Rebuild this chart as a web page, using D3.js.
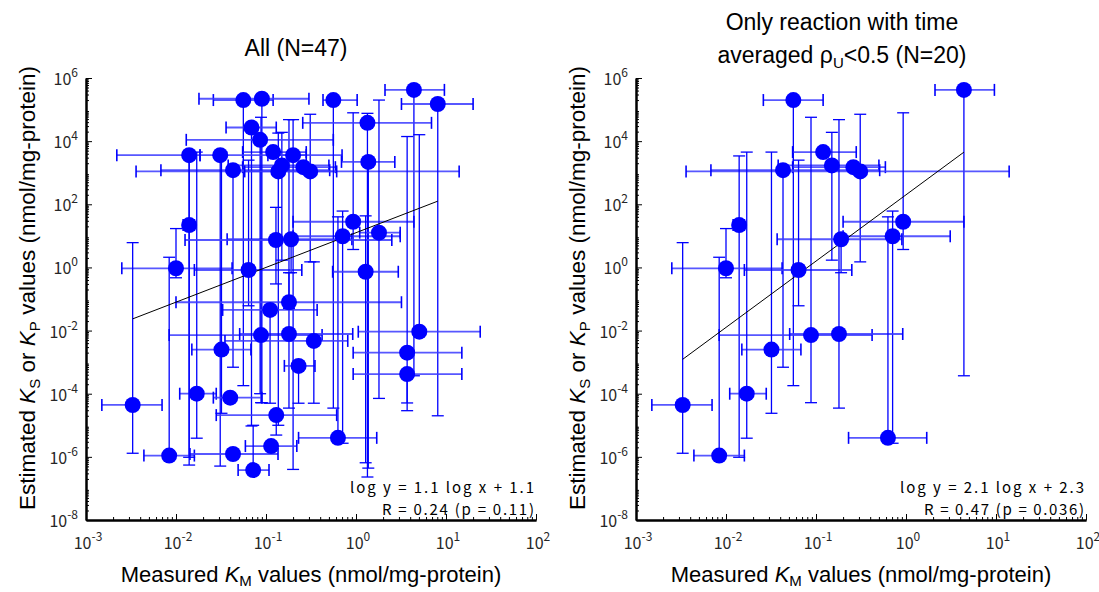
<!DOCTYPE html>
<html>
<head>
<meta charset="utf-8">
<script src="https://cdn.jsdelivr.net/npm/d3@7"></script>
<style>
  body { margin: 0; background: #fff; }
  text { font-family: "Liberation Sans", Arial, sans-serif; }
  .tick-label, .stats { font-family: "Noto Sans CJK JP", "DejaVu Sans", sans-serif; }
</style>
</head>
<body>
<svg id="chart" width="1099" height="592"></svg>
<script>
// Measured KM (x) with lower / upper error bounds, nmol/mg-protein
// first 20 entries are the reactions with time averaged rhoU < 0.5
const km   = [4.4, 0.056, 0.12, 0.15, 0.26, 0.31, 0.043, 0.014, 0.93, 0.71,
              0.19, 0.010, 0.064, 0.088, 0.18, 0.032, 0.017, 0.0033, 0.0084, 0.63,
              0.090, 0.069, 0.086, 0.014, 0.031, 0.20, 0.137, 0.56, 8.1, 1.34,
              1.37, 0.129, 0.111, 0.18, 0.23, 1.8, 1.28, 0.34, 5.05, 3.7,
              0.040, 0.13, 0.043, 0.114, 0.072, 3.7];
const kmLo = [2.1, 0.026, 0.055, 0.038, 0.055, 0.0036, 0.0068, 0.012, 0.20, 0.20,
              0.037, 0.0025, 0.016, 0.0084, 0.051, 0.015, 0.011, 0.0015, 0.0044, 0.23,
              0.018, 0.036, 0.013, 0.0022, 0.0185, 0.105, 0.058, 0.43, 3.2, 0.256,
              0.69, 0.0126, 0.033, 0.010, 0.16, 1.1, 0.55, 0.035, 1.06, 0.93,
              0.026, 0.028, 0.0143, 0.059, 0.049, 0.93];
const kmHi = [9.6, 0.12, 0.28, 0.50, 0.59, 14, 0.51, 0.016, 4.4, 3.1,
              0.90, 0.042, 0.25, 0.42, 0.92, 0.068, 0.028, 0.0070, 0.016, 1.7,
              0.30, 0.13, 0.56, 0.0185, 0.70, 0.28, 0.61, 1.03, 20, 6.9,
              2.7, 2.5, 0.37, 3.2, 0.35, 3.1, 2.95, 0.81, 24, 15,
              0.090, 0.61, 0.136, 0.22, 0.108, 15];

// Estimated KS or KP (y) with lower / upper error bounds
const ks   = [4.2e5, 2.0e5, 4.5e3, 1.7e3, 1.5e3, 1.1e3, 1.2e3, 22, 28, 9.7,
              7.8, 0.94, 0.83, 7.2e-3, 7.8e-3, 2.5e-3, 1.0e-4, 4.4e-5, 1.1e-6, 4.0e-6,
              2.2e5, 2.7e4, 1.1e4, 3.6e3, 3.6e3, 3.6e3, 1.1e3, 2.0e5, 1.5e5, 3.8e4,
              2.2e3, 7.4, 0.045, 0.079, 7.6e-4, 12.6, 0.73, 4.7e-3, 9.2e-3, 2.0e-3,
              7.5e-5, 2.1e-5, 1.23e-6, 2.2e-6, 3.8e-7, 4.2e-4];
const ksLo = [3.7e-4, 1.8e-4, 3.9e3, 1.7, 1.3e3, 1.5, 6.9e-4, 9.7e-7, 3.7, 2.7e-6,
              0.68, 0.47, 0.061, 5.2e-5, 3.5e-5, 2.4e-5, 3.9e-6, 1.3e-6, 0.9e-6, 3.2e-6,
              5.2e-5, 9.5e-6, 1.0e-4, 5.5e-7, 5.1e-7, 4.0e-7, 1.0e-5, 3.5e-5, 2.0e-5, 2.3e-7,
              4.4e-7, 0.3, 5.0e-5, 0.05, 5.0e-5, 7.1e-5, 6.5e-7, 5.0e-5, 7.8e-3, 5.1e-5,
              6.0e-5, 4.9e-6, 1.0e-6, 1.8e-6, 3.2e-7, 2.9e-5];
const ksHi = [4.6e5, 2.2e5, 5.2e3, 1.9e4, 1.7e3, 7.1e4, 1.4e3, 3.4e3, 7.9e4, 61,
              9.5, 17, 2.5e3, 5.7e4, 4.8e4, 4.5e3, 4.5e3, 6.1, 2.1, 40,
              2.4e5, 3.2e4, 1.3e4, 4.2e3, 4.2e3, 4.8e4, 1.8e4, 2.2e5, 1.7e5, 7.6e4,
              2.6e3, 80, 0.06, 0.68, 9.0e-4, 2.0e5, 43, 1.5, 1.6e4, 1.4e4,
              9.0e-5, 2.5e-5, 1.5e-6, 2.7e-6, 1.0e-5, 5.0e-4];

const lowRho = km.map((d, i) => i < 20);

const xMajor = [1e-3, 1e-2, 1e-1, 1e0, 1e1, 1e2];
const yMajor = [1e-8, 1e-6, 1e-4, 1e-2, 1e0, 1e2, 1e4, 1e6];

const fitSlope = [1.1, 2.1];
const fitIntercept = [1.1, 2.3];
const statLines = [
  ['log y = 1.1 log x + 1.1', 'R = 0.24 (p = 0.11)'],
  ['log y = 2.1 log x + 2.3', 'R = 0.47 (p = 0.036)']
];

const svg = d3.select('#chart');
const blue = '#0000ff';

function minorTicks(lo, hi) {
  const out = [];
  for (let e = lo; e < hi; e++) {
    for (let m = 2; m <= 9; m++) out.push(m * Math.pow(10, e));
  }
  return out;
}

function drawPanel(left, idx, p) {
  const x = d3.scaleLog().domain([1e-3, 1e2]).range([left, left + 450]);
  const y = d3.scaleLog().domain([1e-8, 1e6]).range([520, 78]);
  const g = svg.append('g');

  // error bars
  const bars = g.append('g');
  idx.forEach(i => {
    const cx = x(km[i]), cy = y(ks[i]);
    const y1 = y(ksLo[i]), y2 = y(ksHi[i]);
    bars.append('line').attr('x1', cx).attr('x2', cx).attr('y1', y1).attr('y2', y2)
      .attr('stroke', blue).attr('stroke-width', 1.3);
    [y1, y2].forEach(yy => bars.append('line')
      .attr('x1', cx - 6).attr('x2', cx + 6).attr('y1', yy).attr('y2', yy)
      .attr('stroke', blue).attr('stroke-width', 1.3));
    const x1 = x(kmLo[i]), x2 = x(kmHi[i]);
    bars.append('line').attr('x1', x1).attr('x2', x2).attr('y1', cy).attr('y2', cy)
      .attr('stroke', '#3a3aff').attr('stroke-width', 1.8).attr('opacity', 0.85);
    [x1, x2].forEach(xx => bars.append('line')
      .attr('x1', xx).attr('x2', xx).attr('y1', cy - 6).attr('y2', cy + 6)
      .attr('stroke', blue).attr('stroke-width', 1.6));
  });

  // fit line over the data range
  const xs = idx.map(i => km[i]);
  const xmin = d3.min(xs), xmax = d3.max(xs);
  const fy = v => Math.pow(10, fitSlope[p] * Math.log10(v) + fitIntercept[p]);
  g.append('line')
    .attr('x1', x(xmin)).attr('y1', y(fy(xmin)))
    .attr('x2', x(xmax)).attr('y2', y(fy(xmax)))
    .attr('stroke', '#000').attr('stroke-width', 1);

  // points
  g.append('g').selectAll('circle').data(idx).enter().append('circle')
    .attr('cx', i => x(km[i])).attr('cy', i => y(ks[i])).attr('r', 8)
    .attr('fill', blue);

  // axes (ticks pointing inward)
  const ax = g.append('g');
  ax.append('g').attr('transform', 'translate(0,520)')
    .call(d3.axisBottom(x).tickValues(minorTicks(-3, 2)).tickSize(-3).tickSizeOuter(0).tickFormat(''));
  ax.append('g').attr('transform', 'translate(0,520)')
    .call(d3.axisBottom(x).tickValues(xMajor).tickSize(-6).tickSizeOuter(0).tickFormat(''));
  ax.append('g').attr('transform', `translate(${left},0)`)
    .call(d3.axisLeft(y).tickValues(minorTicks(-8, 6)).tickSize(-3).tickSizeOuter(0).tickFormat(''));
  ax.append('g').attr('transform', `translate(${left},0)`)
    .call(d3.axisLeft(y).tickValues(yMajor).tickSize(-6).tickSizeOuter(0).tickFormat(''));
  ax.selectAll('.domain').attr('stroke', '#000').attr('stroke-width', 2);
  ax.selectAll('.tick line').attr('stroke', '#000');

  // tick labels 10^n
  xMajor.forEach(t => {
    const txt = g.append('text').attr('class', 'tick-label')
      .attr('x', x(t) + 2).attr('y', 549).attr('text-anchor', 'middle')
      .attr('font-size', 16).attr('fill', '#262626');
    txt.append('tspan').text('10');
    txt.append('tspan').attr('dy', -8).attr('font-size', 12).text(Math.round(Math.log10(t)));
  });
  yMajor.forEach(t => {
    const txt = g.append('text').attr('class', 'tick-label')
      .attr('x', left - 8).attr('y', y(t) + 7).attr('text-anchor', 'end')
      .attr('font-size', 16).attr('fill', '#262626');
    txt.append('tspan').text('10');
    txt.append('tspan').attr('dy', -8).attr('font-size', 12).text(Math.round(Math.log10(t)));
  });

  // fit statistics
  statLines[p].forEach((s, k) => {
    g.append('text').attr('class', 'stats')
      .attr('x', left + 448).attr('y', 493 + k * 22).attr('text-anchor', 'end')
      .attr('font-size', 15).attr('fill', '#000')
      .attr('textLength', s.length * 8).attr('lengthAdjust', 'spacing')
      .text(s);
  });

  // axis titles
  const xl = g.append('text').attr('x', left + 225).attr('y', 582)
    .attr('text-anchor', 'middle').attr('font-size', 22).attr('fill', '#000');
  xl.append('tspan').text('Measured ');
  xl.append('tspan').attr('font-style', 'italic').text('K');
  xl.append('tspan').attr('dy', 4).attr('font-size', 15).text('M');
  xl.append('tspan').attr('dy', -4).text(' values (nmol/mg-protein)');

  const yl = g.append('text')
    .attr('transform', `translate(${left - 51},288) rotate(-90)`)
    .attr('text-anchor', 'middle').attr('font-size', 22.5).attr('fill', '#000');
  yl.append('tspan').text('Estimated ');
  yl.append('tspan').attr('font-style', 'italic').text('K');
  yl.append('tspan').attr('dy', 5).attr('font-size', 15).text('S');
  yl.append('tspan').attr('dy', -5).text(' or ');
  yl.append('tspan').attr('font-style', 'italic').text('K');
  yl.append('tspan').attr('dy', 5).attr('font-size', 15).text('P');
  yl.append('tspan').attr('dy', -5).text(' values (nmol/mg-protein)');

  return g;
}

const allIdx = km.map((d, i) => i);
const subIdx = allIdx.filter(i => lowRho[i]);

const g1 = drawPanel(86, allIdx, 0);
g1.append('text').attr('x', 296).attr('y', 56).attr('text-anchor', 'middle')
  .attr('font-size', 23).attr('fill', '#000').text('All (N=47)');

const g2 = drawPanel(636, subIdx, 1);
g2.append('text').attr('x', 842).attr('y', 30).attr('text-anchor', 'middle')
  .attr('font-size', 23).attr('fill', '#000').text('Only reaction with time');
const t2 = g2.append('text').attr('x', 842).attr('y', 63).attr('text-anchor', 'middle')
  .attr('font-size', 23).attr('fill', '#000');
t2.append('tspan').text('averaged \u03c1');
t2.append('tspan').attr('dy', 5).attr('font-size', 15).text('U');
t2.append('tspan').attr('dy', -5).text('<0.5 (N=20)');
</script>
</body>
</html>
